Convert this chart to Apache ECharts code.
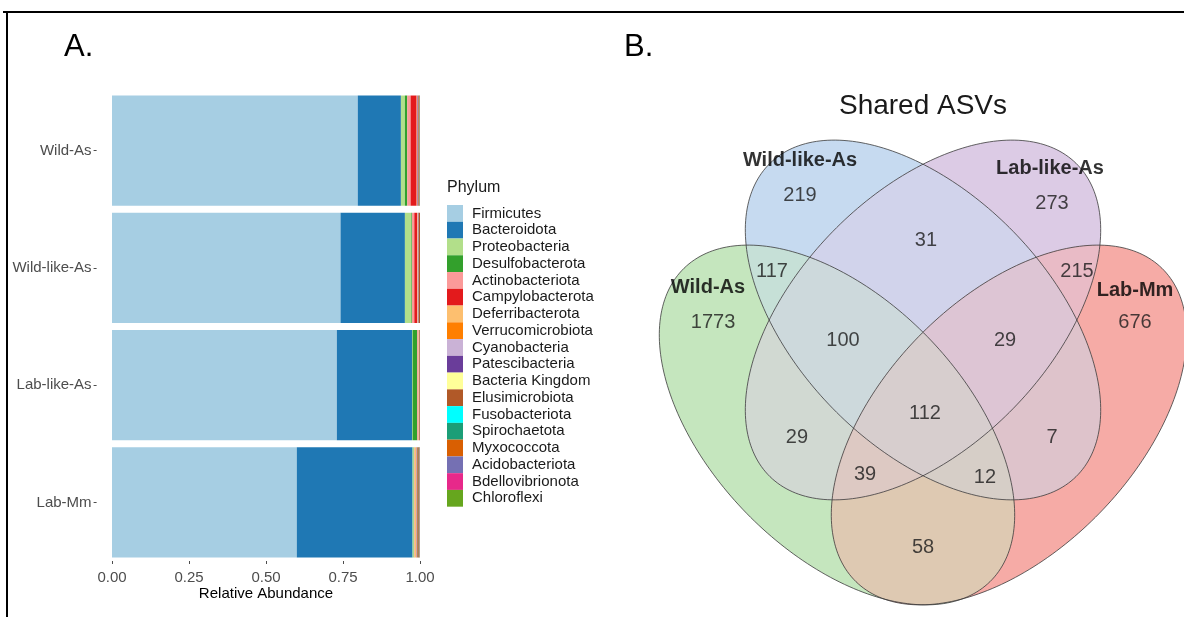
<!DOCTYPE html>
<html><head><meta charset="utf-8">
<script src="https://cdn.jsdelivr.net/npm/echarts@6/dist/echarts.min.js"></script>
<style>html,body{margin:0;padding:0;background:#fff}#c{width:1184px;height:617px}</style>
</head><body><div id="c"></div>
<script>
// ---------- Panel A data ----------
const samples = ['Wild-As', 'Wild-like-As', 'Lab-like-As', 'Lab-Mm'];
const phyla = ['Firmicutes','Bacteroidota','Proteobacteria','Desulfobacterota','Actinobacteriota',
  'Campylobacterota','Deferribacterota','Verrucomicrobiota','Cyanobacteria','Patescibacteria',
  'Bacteria Kingdom','Elusimicrobiota','Fusobacteriota','Spirochaetota','Myxococcota',
  'Acidobacteriota','Bdellovibrionota','Chloroflexi'];
const phylumColors = ['#A6CEE3','#1F78B4','#B2DF8A','#33A02C','#FB9A99','#E31A1C','#FDBF6F','#FF7F00',
  '#CAB2D6','#6A3D9A','#FFFF99','#B15928','#00FFFF','#1B9E77','#D95F02','#7570B3','#E7298A','#66A61E'];
// relative abundance per sample, in phylum order
const wildAs     = [0.798,0.140,0.013,0.0075,0.011,0.0195,0.001,0.001,0.001,0.002,0.0005,0.004,0,0.001,0,0,0,0];
const wildLikeAs = [0.742,0.209,0.021,0.002,0.0075,0.009,0.001,0.001,0.001,0.002,0.0005,0.004,0,0,0,0,0,0];
const labLikeAs  = [0.730,0.244,0.002,0.015,0.003,0,0.001,0.001,0.001,0.001,0,0.002,0,0,0,0,0,0];
const labMm      = [0.600,0.376,0.004,0.001,0.002,0,0.004,0.001,0.001,0.001,0.001,0.005,0,0.001,0.001,0.001,0.0005,0.0005];
const xTicks = [0, 0.25, 0.5, 0.75, 1];

// ---------- Panel B data ----------
const vennTitle = 'Shared ASVs';
const vennSets = ['Wild-As', 'Wild-like-As', 'Lab-like-As', 'Lab-Mm'];
// regions: member set indices (into vennSets) and ASV counts
const vennRegionSets = [[0],[1],[2],[3],[0,1],[0,2],[0,3],[1,2],[1,3],[2,3],
  [0,1,2],[0,1,3],[0,2,3],[1,2,3],[0,1,2,3]];
const vennCounts = [1773, 219, 273, 676, 117, 29, 58, 31, 7, 215, 100, 12, 39, 29, 112];

// ---------- layout / style (not data) ----------
const FONT = "'Liberation Sans', Arial, Helvetica, sans-serif";
const vennSetRGB = [[197,230,190],[198,218,240],[220,203,229],[246,171,166]];
// ellipse geometry in venn unit space: [cx, cy, a, b, angleDeg]
const vennEllipses = [
  [0.4058, 0.3288, 0.375, 0.2164, -45.7],
  [0.5531, 0.5086, 0.375, 0.2164, -45.7],
  [0.5531, 0.5086, 0.375, 0.2164, 45.7],
  [0.7003, 0.3288, 0.375, 0.2164, 45.7]
];
const vennSetLabelPos = [[0.1849,0.5634],[0.3425,0.7825],[0.7705,0.7688],[0.9161,0.5599]];
const vennCountPos = [[0.1935,0.5051],[0.3425,0.7226],[0.774,0.7089],[0.9161,0.5051],
  [0.2945,0.5908],[0.3373,0.3082],[0.5531,0.1182],[0.5582,0.6455],[0.774,0.3082],[0.8168,0.5908],
  [0.4161,0.4743],[0.6592,0.2397],[0.4538,0.2432],[0.6935,0.4743],[0.5565,0.3493]];

const sampleRows = [wildAs, wildLikeAs, labLikeAs, labMm];
const barSeries = phyla.map((p, i) => ({
  name: p, type: 'bar', stack: 'total', xAxisIndex: 0, yAxisIndex: 0,
  barCategoryGap: '6%', itemStyle: { color: phylumColors[i] },
  emphasis: { disabled: true },
  data: sampleRows.map(r => r[i])
}));

function ellipsePoints(api, e) {
  const cx = e[0], cy = e[1], a = e[2], b = e[3], ang = e[4] * Math.PI / 180;
  const pts = [];
  for (let k = 0; k < 240; k++) {
    const t = k / 240 * 2 * Math.PI;
    const x = cx + a * Math.cos(t) * Math.cos(ang) - b * Math.sin(t) * Math.sin(ang);
    const y = cy + a * Math.cos(t) * Math.sin(ang) + b * Math.sin(t) * Math.cos(ang);
    pts.push(api.coord([x, y]));
  }
  return pts;
}
function regionColor(S) {
  const c = [0, 0, 0];
  S.forEach(s => { for (let j = 0; j < 3; j++) c[j] += vennSetRGB[s][j] / S.length; });
  return 'rgb(' + c.map(Math.round).join(',') + ')';
}
function ellPoly(api, idx) {
  return { type: 'polygon', shape: { points: ellipsePoints(api, vennEllipses[idx]) } };
}

const chart = echarts.init(document.getElementById('c'), null, { renderer: 'canvas' });
chart.setOption({
  animation: false,
  backgroundColor: '#fff',
  textStyle: { fontFamily: FONT },
  grid: [
    { left: 96.6, top: 92, width: 338.8, height: 469 },
    { left: 600, top: 33, width: 584, height: 584 }
  ],
  xAxis: [
    { type: 'value', gridIndex: 0, min: -0.05, max: 1.05,
      axisLine: { show: false, onZero: false }, splitLine: { show: false },
      axisTick: { show: true, length: 3, customValues: xTicks, lineStyle: { color: '#4d4d4d' } },
      axisLabel: { color: '#4d4d4d', fontSize: 15, margin: 9, fontFamily: FONT, customValues: xTicks,
        formatter: v => v.toFixed(2) },
      name: 'Relative Abundance', nameLocation: 'middle', nameGap: 25, nameMoveOverlap: false,
      nameTextStyle: { color: '#000', fontSize: 15, fontFamily: FONT } },
    { type: 'value', gridIndex: 1, min: 0, max: 1, show: false }
  ],
  yAxis: [
    { type: 'category', gridIndex: 0, data: samples, inverse: true,
      axisLine: { show: false, onZero: false },
      axisTick: { show: true, length: 3, alignWithLabel: true, lineStyle: { color: '#4d4d4d' } },
      axisLabel: { color: '#4d4d4d', fontSize: 15, margin: 5, fontFamily: FONT } },
    { type: 'value', gridIndex: 1, min: 0, max: 1, show: false }
  ],
  legend: {
    orient: 'vertical', left: 447, top: 205, padding: 0, itemWidth: 16, itemHeight: 16.76, itemGap: 0,
    icon: 'rect', selectedMode: false, data: phyla,
    textStyle: { fontSize: 15, color: '#1a1a1a', fontFamily: FONT, padding: [0, 0, 0, 4], lineHeight: 16.76 }
  },
  series: barSeries.concat([
    { type: 'custom', xAxisIndex: 1, yAxisIndex: 1, silent: true, clip: false,
      data: vennRegionSets.map((S, i) => ({ value: [vennCountPos[i][0], vennCountPos[i][1]], name: String(vennCounts[i]) })),
      renderItem: (params, api) => {
        const S = vennRegionSets[params.dataIndex];
        let el = { type: 'polygon', shape: { points: ellipsePoints(api, vennEllipses[S[0]]) },
          style: { fill: regionColor(S), stroke: 'none' } };
        if (S.length > 1) el.clipPath = ellPoly(api, S[1]);
        for (let k = 2; k < S.length; k++) el = { type: 'group', children: [el], clipPath: ellPoly(api, S[k]) };
        return el;
      }
    },
    { type: 'custom', xAxisIndex: 1, yAxisIndex: 1, silent: true, clip: false, z: 3,
      data: vennEllipses.map((e, i) => ({ value: e, name: vennSets[i] })),
      renderItem: (params, api) => ({
        type: 'polygon', shape: { points: ellipsePoints(api, vennEllipses[params.dataIndex]) },
        style: { fill: 'none', stroke: 'rgba(60,60,60,0.8)', lineWidth: 1 } })
    },
    { type: 'scatter', xAxisIndex: 1, yAxisIndex: 1, silent: true, symbolSize: 0, z: 4,
      data: vennCounts.map((c, i) => ({ value: vennCountPos[i], name: String(c) })),
      label: { show: true, position: 'inside', formatter: '{b}', color: '#1a1a1a', fontSize: 20, fontFamily: FONT }
    },
    { type: 'scatter', xAxisIndex: 1, yAxisIndex: 1, silent: true, symbolSize: 0, z: 4,
      data: vennSets.map((s, i) => ({ value: vennSetLabelPos[i], name: s })),
      label: { show: true, position: 'inside', formatter: '{b}', color: '#000', fontSize: 20, fontWeight: 'bold', fontFamily: FONT }
    }
  ]),
  graphic: [
    { type: 'line', shape: { x1: 3, y1: 12, x2: 1184, y2: 12 }, style: { stroke: '#000', lineWidth: 2 }, z: 10 },
    { type: 'line', shape: { x1: 7, y1: 11, x2: 7, y2: 617 }, style: { stroke: '#000', lineWidth: 2 }, z: 10 },
    { type: 'text', x: 64, y: 47, style: { text: 'A.', font: '31px ' + FONT, fill: '#000', verticalAlign: 'middle' } },
    { type: 'text', x: 624, y: 47, style: { text: 'B.', font: '31px ' + FONT, fill: '#000', verticalAlign: 'middle' } },
    { type: 'text', x: 447, y: 188, style: { text: 'Phylum', font: '16px ' + FONT, fill: '#1a1a1a', verticalAlign: 'middle' } },
    { type: 'text', x: 923, y: 106, style: { text: vennTitle, font: '28px ' + FONT, fill: '#1a1a1a', align: 'center', verticalAlign: 'middle' } }
  ]
});
</script></body></html>
